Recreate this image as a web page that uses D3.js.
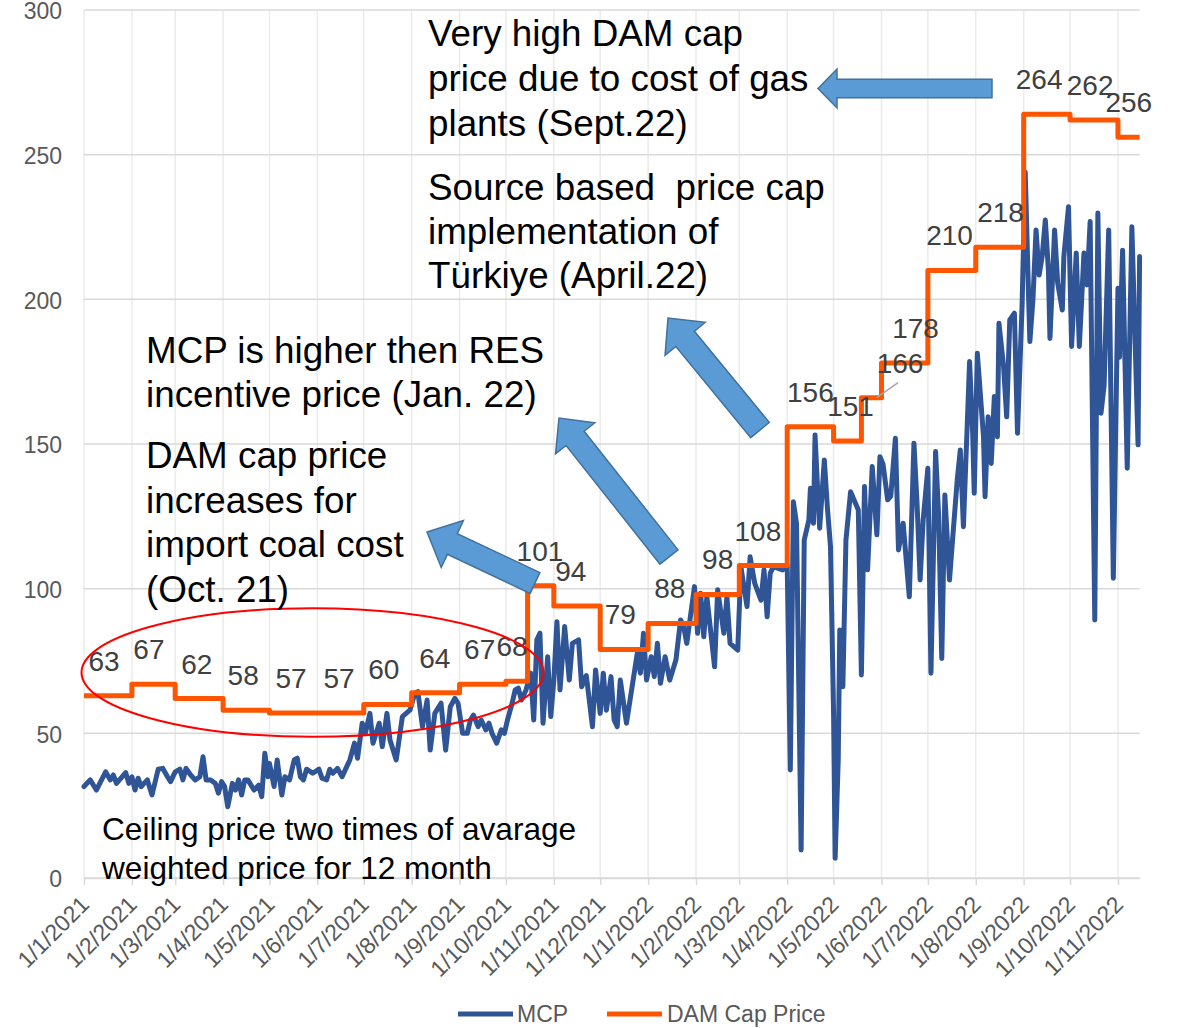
<!DOCTYPE html>
<html><head><meta charset="utf-8">
<script src="https://cdn.jsdelivr.net/npm/d3@7"></script>
<style>
body{margin:0;background:#fff;}
svg text{font-family:"Liberation Sans", Arial, Helvetica, sans-serif;}
</style></head>
<body><svg id="c" width="1183" height="1028"></svg>
<script>
// ---------------- DATA ----------------
// MCP: day offset from 1 Jan 2021 and value
const mcpDays = [0,4,8,14,17,19,21,27,29,31,33,35,37,41,44,48,51,54,56,59,62,64,66,69,72,75,77,79,82,85,87,89,91,93,96,98,100,102,104,106,110,113,115,117,119,120,123,125,128,130,133,136,138,140,142,144,148,152,154,157,159,161,164,
167,170,172,175,177,180,182,185,187,191,193,196,198,202,206,211,214,216,219,222,224,227,231,234,237,240,242,245,248,250,252,255,257,260,262,264,267,270,272,274,277,279,281,283,286,289,291,293,295,297,300,302,304,306,308,311,314,316,320,322,325,329,331,334,336,338,341,343,345,347,351,356,358,360,362,364,367,369,371,373,376,379,383,386,388,390,395,397,399,401,403,408,410,414,416,418,423,425,429,431,434,438,440,442,444,446,452,455,
457,459,461,464,466,469,470,472,473,475,476,479,481,483,485,486,488,489,491,493,496,501,503,505,507,510,513,515,517,520,522,525,527,530,534,537,539,541,543,546,548,551,553,555,557,560,562,565,567,569,
573,575,576,578,582,583,585,587,589,591,592,595,597,599,602,604,607,609,611,612,614,616,618,620,622,624,625,628,630,633,634,637,639,642,644,647,649,651,654,656,658,660,663,666,669,670,672,675,678,682,683];
const mcpValues = [31.6,33.9,30.4,36.7,33.9,35.6,32.7,36.4,32.7,35,30.4,34.5,31.6,33.9,28.7,37.6,37.9,35,33.3,36.7,37.6,33.9,37.9,35.6,33.9,35,41.9,33.9,33.9,32.7,29.3,33.3,31.6,24.6,32.7,30.4,33.9,28.7,33.9,33.9,30.4,32.1,28.1,43.1,35,39.6,31.6,40.8,28.7,35,33.9,40.8,41.4,35,33.9,37.6,36.2,37.6,34.5,33.9,37.6,36.2,37.9,
35,38.5,40.8,46.6,41.4,53.5,50,56.9,46.6,53.5,45.4,56.9,47.7,40.8,55.8,58.1,63.8,64.4,52.3,61.5,44.2,56.9,60.4,44.2,59.2,62.1,60.4,50,50,54.6,56.3,52.3,54.6,51.2,53.5,50,46.6,51.2,50,54.6,60.4,65,65.6,61.5,65,70.8,54.6,82.3,84.6,53.5,76.5,55.8,68.4,88.6,65,86.9,68.4,81.1,82.3,66.1,70,52.3,71.9,56.9,70.8,58,69.6,54.6,52.3,68.4,53.5,70.8,77.7,70.8,84.6,68.4,76.5,69.6,81.1,67.3,76.5,68.4,75.4,89.2,86.9,81.1,100.7,84.6,98.4,83.4,97.2,73,99.6,84.6,97.2,81.1,78.8,107.6,93.8,111,101.8,96,106.5,90.3,105.3,107.6,106.5,108,
37.3,130,122.6,9.7,116.8,123.7,134.7,122.6,153.1,130.7,120.9,144.5,128,114.5,56.9,6.8,40.8,85.7,66.1,116.8,133.5,127.2,70.2,135.3,106.5,142.2,118.6,145.6,143,130.7,132,152,113.4,122.6,97.2,150.3,129.5,103,124,141.6,70.8,147.4,125,75.9,132.4,103,117,137.6,147.9,121.4,
178.5,153.7,133,181.4,152.5,131.8,159.4,143.3,166.4,152.5,191.7,176.7,159.4,192.9,195.2,153.7,198.6,244,204.4,185.4,200,224,208.4,215,227.4,210,186.5,224,205.6,196.3,214.8,232,183.7,216,183.7,216,205,226.9,89.2,229.8,160.6,170,224,103.6,203.8,180,217,141.6,225.1,149.7,214.8];

// DAM cap price: change dates and values
const capDates = ["2021-01-01","2021-02-01","2021-03-01","2021-04-01","2021-05-01","2021-06-01","2021-07-01","2021-08-01","2021-09-01","2021-10-01","2021-10-15","2021-11-01","2021-12-01","2022-01-01","2022-02-01","2022-03-01","2022-04-01","2022-05-01","2022-05-19","2022-06-01","2022-07-01","2022-08-01","2022-09-01","2022-10-01","2022-11-01"];
const capValues = [63,67,62,58,57,57,60,64,67,68,101,94,79,88,98,108,156,151,166,178,210,218,264,262,256];
// day (from 1 Jan 2021) of the point each cap label sits on
const capLabelDays = [13,42,73,103,134,165,194,227,256,277,295,315,347,379,410,436,470,496,528,538,560,593,618,651,676];
const leaderIndex = 18, leaderDay = 513;

const yTicks = [0,50,100,150,200,250,300];
const seriesNames = ["MCP","DAM Cap Price"];
const startDate = "2021-01-01", endDate = "2022-11-15";

const notes = [
  {x:428, y:46, step:45, size:36.8, lines:["Very high DAM cap","price due to cost of gas","plants (Sept.22)"]},
  {x:428, y:200, step:44, size:36.8, lines:["Source based  price cap","implementation of","Türkiye (April.22)"]},
  {x:146, y:363, step:44, size:36.8, lines:["MCP is higher then RES","incentive price (Jan. 22)"]},
  {x:146, y:468, step:44.5, size:36.8, lines:["DAM cap price","increases for","import coal cost","(Oct. 21)"]},
  {x:102, y:840, step:38.5, size:31.6, lines:["Ceiling price two times of avarage","weighted price for 12 month"]}
];
const arrows = [
  {tail:[992,88.5], tip:[818,88.5], sw:18.5, hw:39, hl:19},
  {tail:[760,430], tip:[668,318], sw:24, hw:52, hl:27},
  {tail:[669,557], tip:[559,418], sw:23, hw:50, hl:26},
  {tail:[535,583], tip:[427,532], sw:23, hw:52, hl:28}
];

// ---------------- CHART ----------------
const BLUE="#2F5597", ORANGE="#FF5500";
const svg=d3.select("#c");
const parse=d3.timeParse("%Y-%m-%d");
const start=parse(startDate), end=parse(endDate);
const dayToDate=d=>d3.timeDay.offset(start,d);
const x=d3.scaleTime().domain([start,end]).range([84,1139.6]);
const y=d3.scaleLinear().domain([0,300]).range([878,10]);
const months=d3.timeMonth.range(start,d3.timeDay.offset(end,1));

// gridlines
svg.append("g").selectAll("line").data(months).join("line")
  .attr("x1",d=>x(d)).attr("x2",d=>x(d)).attr("y1",y(300)).attr("y2",y(0))
  .attr("stroke","#EBEBEB").attr("stroke-width",1.5);
svg.append("g").selectAll("line").data(yTicks).join("line")
  .attr("x1",x(start)).attr("x2",x(end)).attr("y1",d=>y(d)).attr("y2",d=>y(d))
  .attr("stroke","#D9D9D9").attr("stroke-width",1.5);

// x axis
const fmt=d=>`${d.getDate()}/${d.getMonth()+1}/${d.getFullYear()}`;
const xa=svg.append("g").attr("transform",`translate(0,${y(0)})`)
  .call(d3.axisBottom(x).tickValues(months).tickFormat(fmt).tickSize(7).tickSizeOuter(0));
xa.select(".domain").attr("stroke","#D9D9D9").attr("stroke-width",1.5);
xa.selectAll(".tick line").attr("stroke","#D9D9D9").attr("stroke-width",1.5);
xa.selectAll(".tick text").attr("font-size",23).attr("fill","#595959")
  .attr("text-anchor","end").attr("y",0).attr("dy",0)
  .attr("transform","translate(6,28) rotate(-45)");

// y axis
const ya=svg.append("g").attr("transform",`translate(${x(start)},0)`)
  .call(d3.axisLeft(y).tickValues(yTicks).tickSize(0).tickPadding(22));
ya.select(".domain").remove();
ya.selectAll(".tick text").attr("font-size",23).attr("fill","#595959").attr("dy","0.38em");

// MCP line
const mcp=mcpDays.map((d,i)=>({date:dayToDate(d),v:mcpValues[i]}));
svg.append("path").datum(mcp)
  .attr("d",d3.line().x(d=>x(d.date)).y(d=>y(d.v)))
  .attr("fill","none").attr("stroke",BLUE).attr("stroke-width",5)
  .attr("stroke-linejoin","round").attr("stroke-linecap","round");

// Cap line
const cap=capDates.map((d,i)=>({date:parse(d),v:capValues[i]}));
cap.push({date:end,v:capValues[capValues.length-1]});
svg.append("path").datum(cap)
  .attr("d",d3.line().x(d=>x(d.date)).y(d=>y(d.v)).curve(d3.curveStepAfter))
  .attr("fill","none").attr("stroke",ORANGE).attr("stroke-width",5)
  .attr("stroke-linejoin","round");

// leader line for displaced label
svg.append("line")
  .attr("x1",x(dayToDate(leaderDay))).attr("y1",y(capValues[leaderIndex]))
  .attr("x2",x(dayToDate(capLabelDays[leaderIndex]))-2).attr("y2",y(capValues[leaderIndex])-15)
  .attr("stroke","#A6A6A6").attr("stroke-width",1.5);

// cap labels
svg.append("g").selectAll("text").data(capLabelDays).join("text")
  .attr("x",d=>x(dayToDate(d))).attr("y",(d,i)=>y(capValues[i])-25)
  .attr("text-anchor","middle").attr("font-size",28).attr("fill","#404040")
  .text((d,i)=>capValues[i]);

// red ellipse
svg.append("ellipse").attr("cx",312.5).attr("cy",672.5).attr("rx",231).attr("ry",64.3)
  .attr("fill","none").attr("stroke","#FF0000").attr("stroke-width",2);

// arrows
function arrowPts(a){
  const [tx,ty]=a.tail,[px,py]=a.tip;
  const L=Math.hypot(px-tx,py-ty), ux=(px-tx)/L, uy=(py-ty)/L, nx=-uy, ny=ux;
  const bx=px-ux*a.hl, by=py-uy*a.hl;
  const p=(X,Y,k)=>[X+nx*k,Y+ny*k];
  return [p(tx,ty,a.sw/2),p(bx,by,a.sw/2),p(bx,by,a.hw/2),[px,py],p(bx,by,-a.hw/2),p(bx,by,-a.sw/2),p(tx,ty,-a.sw/2)];
}
svg.append("g").selectAll("polygon").data(arrows).join("polygon")
  .attr("points",d=>arrowPts(d).map(p=>p.join(",")).join(" "))
  .attr("fill","#5B9BD5").attr("stroke","#41719C").attr("stroke-width",1.5)
  .attr("stroke-linejoin","miter");

// annotation texts
notes.forEach(n=>{
  const t=svg.append("text").attr("font-size",n.size).attr("fill","#000").style("white-space","pre");
  n.lines.forEach((l,i)=>t.append("tspan").attr("x",n.x).attr("y",n.y+i*n.step).text(l));
});

// legend
const leg=[{name:seriesNames[0],c:BLUE,x1:458,x2:513,tx:517},{name:seriesNames[1],c:ORANGE,x1:607,x2:662,tx:667}];
leg.forEach(l=>{
  svg.append("line").attr("x1",l.x1).attr("x2",l.x2).attr("y1",1014).attr("y2",1014)
    .attr("stroke",l.c).attr("stroke-width",5);
  svg.append("text").attr("x",l.tx).attr("y",1022).attr("font-size",23).attr("fill","#595959").text(l.name);
});
</script></body></html>
